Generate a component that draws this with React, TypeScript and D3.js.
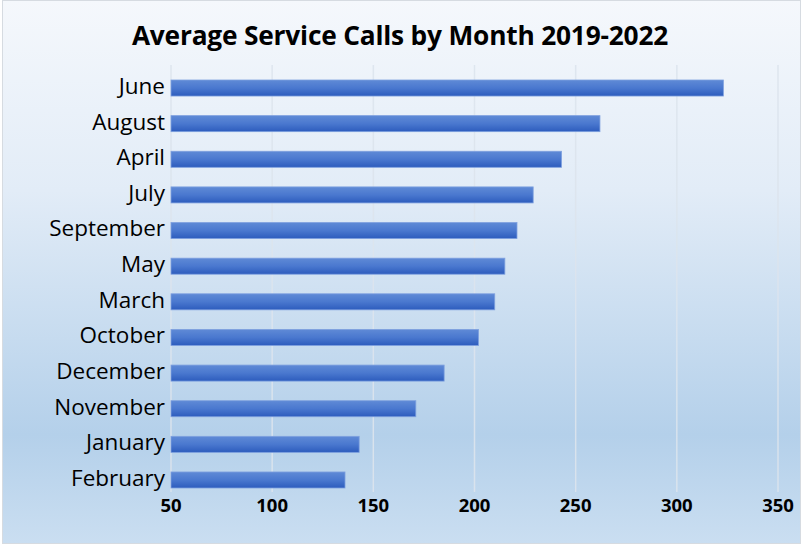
import React from "react";
import * as d3 from "d3";

const months = ["June","August","April","July","September","May","March","October","December","November","January","February"];
const calls = [323, 262, 243, 229, 221, 215, 210, 202, 185, 171, 143, 136];
const ticks = [50, 100, 150, 200, 250, 300, 350];
const title = "Average Service Calls by Month 2019-2022";

const W = 801, H = 546;
const FONT = "'Open Sans', Lato, sans-serif";

export default function App() {
  const x = d3.scaleLinear().domain([50, 350]).range([171, 778]);
  const y = d3.scaleBand<string>().domain(months).range([70.2, 497.8]).paddingInner(0.55).paddingOuter(0.275);
  const bw = y.bandwidth();
  return (
    <div style={{ position: "fixed", left: 0, top: 0 }}>
      <svg width={W} height={H} style={{ display: "block" }}>
        <defs>
          <linearGradient id="bg" x1="0" y1="0" x2="0" y2="1">
            <stop offset="0" stopColor="#f5f8fc" />
            <stop offset="0.35" stopColor="#e2ecf7" />
            <stop offset="0.8" stopColor="#b4d0ea" />
            <stop offset="1" stopColor="#cadef1" />
          </linearGradient>
          <linearGradient id="bar" x1="0" y1="0" x2="0" y2="1">
            <stop offset="0" stopColor="#5f8ad6" />
            <stop offset="0.5" stopColor="#4a78cf" />
            <stop offset="1" stopColor="#2d5cbd" />
          </linearGradient>
        </defs>
        <rect x={2.5} y={0.5} width={W - 3} height={H - 3} fill="url(#bg)" stroke="#d6dbe1" />
        <text x={400} y={45} textAnchor="middle" fontFamily={FONT} fontWeight={700} fontSize={26.3} letterSpacing={-0.2} fill="#000">{title}</text>
        {ticks.map((t) => (
          <line key={t} x1={x(t)} x2={x(t)} y1={65} y2={492} stroke="#dde5ee" strokeWidth={1.5} opacity={0.9} />
        ))}
        {months.map((m, i) => (
          <g key={m}>
            <rect x={x(50)} y={y(m)!} width={x(calls[i]) - x(50)} height={bw} fill="url(#bar)" stroke="#7ea0df" strokeWidth={0.8} />
            <text x={165} y={y(m)! + bw / 2 - 2} dy="0.35em" textAnchor="end" fontFamily={FONT} fontSize={22.5} fill="#000">{m}</text>
          </g>
        ))}
        {ticks.map((t) => (
          <text key={t} x={x(t)} y={512} textAnchor="middle" fontFamily={FONT} fontWeight={700} fontSize={18.5} fill="#000">{t}</text>
        ))}
      </svg>
    </div>
  );
}
